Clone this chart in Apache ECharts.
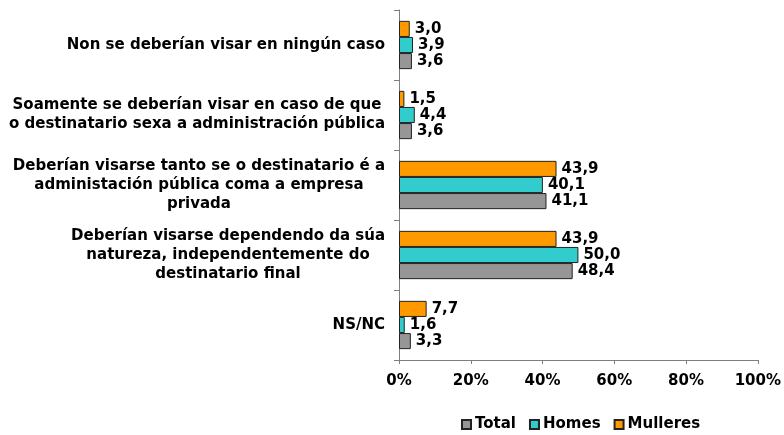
<!DOCTYPE html>
<html>
<head>
<meta charset="utf-8">
<script src="https://cdn.jsdelivr.net/npm/echarts@6/dist/echarts.min.js"></script>
<style>
  html, body { margin: 0; padding: 0; background: #fff; }
  #chart { width: 784px; height: 435px; }
</style>
</head>
<body>
<div id="chart"></div>
<script>
// categorias, de arriba abaixo (liñas xa partidas como na imaxe)
var categories = [
  'Non se deberían visar en ningún caso',
  'Soamente se deberían visar en caso de que\no destinatario sexa a administración pública',
  'Deberían visarse tanto se o destinatario é a\nadministación pública coma a empresa\nprivada',
  'Deberían visarse dependendo da súa\nnatureza, independentemente do\ndestinatario final',
  'NS/NC'
]
var total = [3.6, 3.6, 41.1, 48.4, 3.3]
var homes = [3.9, 4.4, 40.1, 50.0, 1.6]
var mulleres = [3.0, 1.5, 43.9, 43.9, 7.7]
var xTicks = [0, 20, 40, 60, 80, 100]

var font = 'DejaVu Sans'
var fs = 15
var chart = echarts.init(document.getElementById('chart'))

function makeSeries(name, data, color) {
  return {
    name: name,
    type: 'bar',
    data: data,
    barGap: '0%',
    barCategoryGap: '31%',
    itemStyle: { color: color, borderColor: '#222', borderWidth: 1 },
    label: {
      show: true,
      position: 'right',
      distance: 5,
      color: '#000',
      fontFamily: font,
      fontWeight: 'bold',
      fontSize: fs,
      formatter: function(p) {
        return p.value.toFixed(1).replace('.', ',')
      }
    },
    animation: false
  }
}

chart.setOption({
  backgroundColor: '#fff',
  textStyle: { fontFamily: font },
  grid: {
    left: 399,
    width: 360,
    top: 10,
    height: 350
  },
  legend: {
    data: ['Total', 'Homes', 'Mulleres'],
    top: 412,
    left: 456,
    itemWidth: 9,
    itemHeight: 9,
    itemGap: 13,
    icon: 'rect',
    textStyle: { fontFamily: font, fontWeight: 'bold', fontSize: fs, color: '#000', padding: [0, 0, 0, -1] }
  },
  xAxis: {
    type: 'value',
    min: xTicks[0],
    max: xTicks[xTicks.length - 1],
    interval: 20,
    splitLine: { show: false },
    axisLine: { show: true, lineStyle: { color: '#7f7f7f' } },
    axisTick: { show: true, length: 4, lineStyle: { color: '#7f7f7f' } },
    axisLabel: {
      formatter: '{value}%',
      color: '#000',
      fontFamily: font,
      fontWeight: 'bold',
      fontSize: fs,
      margin: 14
    }
  },
  yAxis: {
    type: 'category',
    data: categories,
    inverse: true,
    axisLine: { show: true, lineStyle: { color: '#7f7f7f' } },
    axisTick: { show: true, length: 5, lineStyle: { color: '#7f7f7f' } },
    axisLabel: {
      color: '#000',
      fontFamily: font,
      fontWeight: 'bold',
      fontSize: fs,
      margin: 14,
      align: 'right',
      lineHeight: 19,
      formatter: function(v) {
        return v.split('\n').map(function(l) { return '{c|' + l + '}' }).join('\n')
      },
      rich: {
        c: { align: 'center', fontFamily: font, fontWeight: 'bold', fontSize: fs, color: '#000', lineHeight: 19 }
      }
    }
  },
  // la primera serie queda arriba en cada categoría
  series: [
    makeSeries('Mulleres', mulleres, '#ff9900'),
    makeSeries('Homes', homes, '#33cccc'),
    makeSeries('Total', total, '#969696')
  ]
})
</script>
</body>
</html>
